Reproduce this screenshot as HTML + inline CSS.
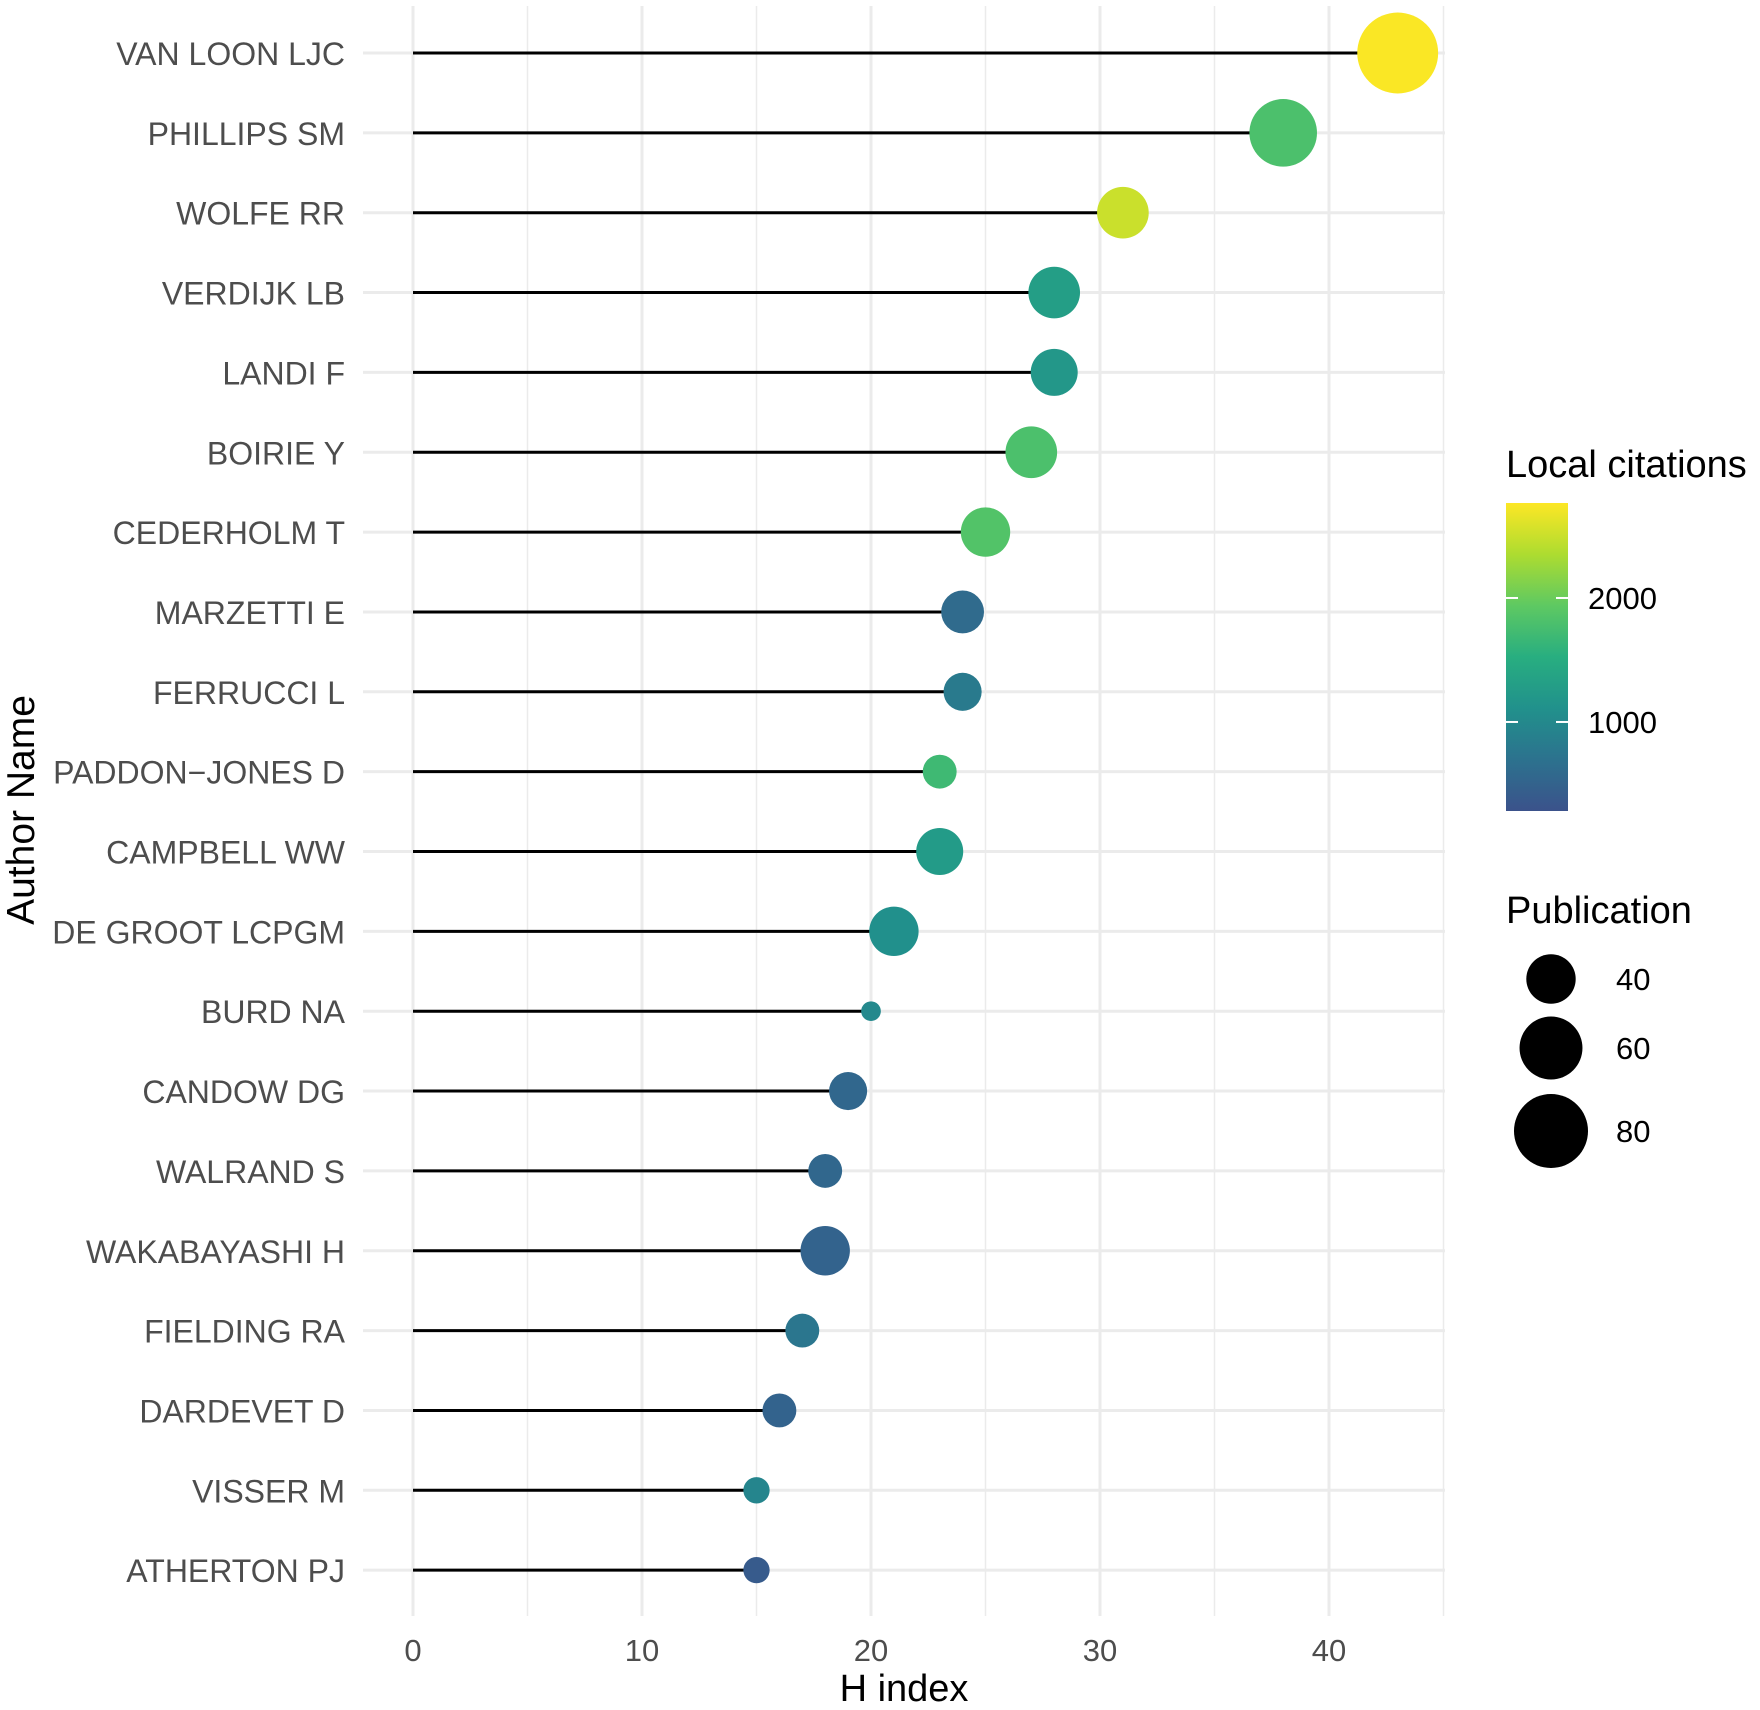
<!DOCTYPE html>
<html><head><meta charset="utf-8"><style>
html,body{margin:0;padding:0;background:#fff;}
svg{display:block;font-family:"Liberation Sans",Arial,sans-serif;}
</style></head><body>
<svg id="chart" width="1760" height="1710" viewBox="0 0 1760 1710" xmlns="http://www.w3.org/2000/svg">
<g id="grid"></g>
<g id="marks"></g>
<g id="ylabels"></g>
<g id="xlabels"></g>
<text x="904" y="1701" font-size="38" fill="#000" text-anchor="middle">H index</text>
<text transform="translate(34,810) rotate(-90)" font-size="39" fill="#000" text-anchor="middle">Author Name</text>
<g id="legend">
  <text x="1506" y="477" font-size="38" fill="#000">Local citations</text>
  <defs><linearGradient id="vir" x1="0" y1="1" x2="0" y2="0">
    <stop offset="0" stop-color="#3b528b"/><stop offset="0.167" stop-color="#2c728e"/>
    <stop offset="0.333" stop-color="#21918c"/><stop offset="0.5" stop-color="#28ae80"/>
    <stop offset="0.667" stop-color="#5ec962"/><stop offset="0.833" stop-color="#addc30"/>
    <stop offset="1" stop-color="#fde725"/></linearGradient></defs>
  <rect x="1506" y="503" width="62" height="308" fill="url(#vir)"/>
  <g id="cbticks"></g>
  <text x="1506" y="923" font-size="38" fill="#000">Publication</text>
  <g id="sizelegend"></g>
</g>
</svg>
<script>
const authors = ["VAN LOON LJC","PHILLIPS SM","WOLFE RR","VERDIJK LB","LANDI F","BOIRIE Y","CEDERHOLM T","MARZETTI E","FERRUCCI L","PADDON\u2212JONES D","CAMPBELL WW","DE GROOT LCPGM","BURD NA","CANDOW DG","WALRAND S","WAKABAYASHI H","FIELDING RA","DARDEVET D","VISSER M","ATHERTON PJ"];
const hIndex = [43,38,31,28,28,27,25,24,24,23,23,21,20,19,18,18,17,16,15,15];
const publications = [94,68,43,43,37,43,40,32,27,23,37,40,13,27,23,40,23,23,17,17];
const citations = [2750,1800,2500,1300,1200,1800,1850,600,800,1700,1250,1100,1000,550,550,500,750,500,950,400];
const xTicks = [0,10,20,30,40];
const cbTicks = [1000,2000];
const sizeLegend = [40,60,80];

const NS="http://www.w3.org/2000/svg";
function mk(tag,attrs,parent){const e=document.createElementNS(NS,tag);for(const k in attrs)e.setAttribute(k,attrs[k]);parent.appendChild(e);return e;}
const X0=413, XS=22.9;
const x = v => X0 + v*XS;
const Y0=53, YS=79.85;
const y = i => Y0 + i*YS;
const PL=363, PR=1445, PT=6, PB=1616;
const CMIN=282, CMAX=2766;
const cy = v => 811 - (v-CMIN)/(CMAX-CMIN)*308;
const r = v => Math.sqrt(Math.max(40, 610 + 19*(v-40)));
const stops=[[0,"#3b528b"],[0.167,"#2c728e"],[0.333,"#21918c"],[0.5,"#28ae80"],[0.667,"#5ec962"],[0.833,"#addc30"],[1,"#fde725"]];
function hex(h){return [1,3,5].map(i=>parseInt(h.substr(i,2),16));}
function color(v){let t=Math.min(1,Math.max(0,(v-CMIN)/(CMAX-CMIN)));
  for(let i=1;i<stops.length;i++){if(t<=stops[i][0]){const a=stops[i-1],b=stops[i];const f=(t-a[0])/(b[0]-a[0]);const ca=hex(a[1]),cb=hex(b[1]);return "rgb("+ca.map((c,j)=>Math.round(c+(cb[j]-c)*f)).join(",")+")";}}
  return stops[stops.length-1][1];}

const grid=document.getElementById('grid');
for(let v=5;v<=45;v+=10){const g=mk('line',{x1:x(v),x2:x(v),y1:PT,y2:PB,stroke:'#ebebeb','stroke-width':1.5},grid);

}
xTicks.forEach(v=>{const g=mk('line',{x1:x(v),x2:x(v),y1:PT,y2:PB,stroke:'#ebebeb','stroke-width':3},grid);

});
authors.forEach((a,i)=>{const g=mk('line',{x1:PL,x2:PR,y1:y(i),y2:y(i),stroke:'#ebebeb','stroke-width':3},grid);

});

const marks=document.getElementById('marks');
const yl=document.getElementById('ylabels');
authors.forEach((a,i)=>{
  const l=mk('line',{x1:x(0),x2:x(hIndex[i]),y1:y(i),y2:y(i),stroke:'#000','stroke-width':3},marks);
  
  
  const c=mk('circle',{cx:x(hIndex[i]),cy:y(i),r:r(publications[i]),fill:color(citations[i])},marks);
  
  
  const t=mk('text',{x:345,y:y(i)+12,'font-size':32,fill:'#4d4d4d','text-anchor':'end'},yl);
  t.textContent=a;
  
  
});
const xl=document.getElementById('xlabels');
xTicks.forEach(v=>{const t=mk('text',{x:x(v),y:1661,'font-size':31,fill:'#4d4d4d','text-anchor':'middle'},xl);
t.textContent=v;

});

const cbt=document.getElementById('cbticks');
cbTicks.forEach(v=>{
  const a=mk('line',{x1:1506,x2:1518,y1:cy(v),y2:cy(v),stroke:'#fff','stroke-width':2},cbt);
  
  
  const b=mk('line',{x1:1556,x2:1568,y1:cy(v),y2:cy(v),stroke:'#fff','stroke-width':2},cbt);
  
  
  const t=mk('text',{x:1588,y:cy(v)+11,'font-size':31,fill:'#000'},cbt);
  t.textContent=v;
  
  
});
const sl=document.getElementById('sizelegend');
const sY=[979,1048,1131];
sizeLegend.forEach((v,i)=>{
  const c=mk('circle',{cx:1551,cy:sY[i],r:r(v),fill:'#000'},sl);
  
  
  const t=mk('text',{x:1616,y:sY[i]+11,'font-size':31,fill:'#000'},sl);
  t.textContent=v;
  
  
});
</script>
</body></html>
